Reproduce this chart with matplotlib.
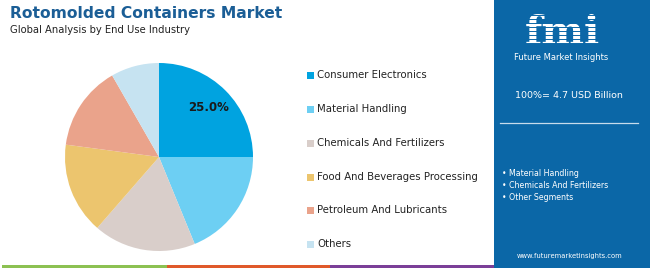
import matplotlib
matplotlib.use("Agg")
import matplotlib.pyplot as plt
from matplotlib.patches import Rectangle

categories = ["Consumer Electronics", "Material Handling", "Chemicals And Fertilizers",
              "Food And Beverages Processing", "Petroleum And Lubricants", "Others"]
values = [25.0, 18.8, 17.6, 15.7, 14.6, 8.3]
colors = ["#00a3e0", "#6dcff3", "#d9ceca", "#ecc56e", "#eaa38b", "#c6e3f1"]
panel_bullets = ["Material Handling", "Chemicals And Fertilizers", "Other Segments"]
title = "Rotomolded Containers Market"
subtitle = "Global Analysis by End Use Industry"
total_text = "100%= 4.7 USD Billion"

W, H = 650, 268
fig = plt.figure(figsize=(W / 100, H / 100), dpi=100)
fig.patch.set_facecolor("white")

def fx(x):
    return x / W

def fy(y):
    return 1 - y / H

# Title
fig.text(fx(10), fy(14), title, fontsize=11.2, fontweight="bold", color="#1b5e96",
         va="center", ha="left", family="DejaVu Sans")
fig.text(fx(10), fy(30), subtitle, fontsize=7.2, color="#222222", va="center", ha="left")

# Pie
cx, cy, r = 159, 157, 94
ax = fig.add_axes([fx(cx - r), fy(cy + r), 2 * r / W, 2 * r / H])
wedges, texts, autotexts = ax.pie(values, colors=colors, startangle=90, counterclock=False,
                                  autopct=lambda p: f"{p:.1f}%" if p >= 24.5 else "",
                                  pctdistance=0.74, radius=1,
                                  wedgeprops=dict(linewidth=0),
                                  textprops=dict(fontsize=8.5, fontweight="bold", color="#1a1a1a"))
ax.set_xlim(-1, 1)
ax.set_ylim(-1, 1)
ax.set_aspect("equal")
ax.axis("off")

# Legend
ys = [75, 109, 143, 177, 210, 244]
for cat, col, y in zip(categories, colors, ys):
    fig.patches.append(Rectangle((fx(307), fy(y + 3.5)), 7 / W, 7 / H, transform=fig.transFigure,
                                 facecolor=col, edgecolor="none"))
    fig.text(fx(317), fy(y), cat, fontsize=7.3, color="#222222", va="center", ha="left")

# Right panel
panel_col = "#0b67a7"
fig.patches.append(Rectangle((fx(494), 0), (W - 494) / W, 1, transform=fig.transFigure,
                             facecolor=panel_col, edgecolor="none"))
# Logo
fig.text(fx(562), fy(44), "fmi", fontsize=29, fontweight="bold", color="white",
         family="DejaVu Serif", ha="center", va="baseline")
for yy in range(15, 45, 4):
    fig.add_artist(plt.Line2D([fx(512), fx(612)], [fy(yy), fy(yy)], color=panel_col,
                              linewidth=0.7, transform=fig.transFigure, zorder=5))
fig.text(fx(561), fy(57), "Future Market Insights", fontsize=6.0, color="white",
         ha="center", va="center")
fig.text(fx(569), fy(95), total_text, fontsize=6.8, color="white", ha="center", va="center")
fig.add_artist(plt.Line2D([fx(500), fx(638)], [fy(123), fy(123)], color="#c8dcec",
                          linewidth=0.9, transform=fig.transFigure))
for txt, y in zip(panel_bullets, [174, 185, 198]):
    fig.text(fx(502), fy(y), "\u2022 " + txt, fontsize=5.7, color="white", ha="left", va="center")
fig.text(fx(570), fy(256), "www.futuremarketinsights.com", fontsize=4.9, color="white",
         ha="center", va="center")

# Bottom strip
for x0, x1, c in [(2, 167, "#8cc152"), (167, 330, "#e0592a"), (330, 494, "#7b3f98")]:
    fig.patches.append(Rectangle((fx(x0), 0), (x1 - x0) / W, 3 / H, transform=fig.transFigure,
                                 facecolor=c, edgecolor="none"))

fig.savefig("out.png", dpi=100, facecolor="white")
